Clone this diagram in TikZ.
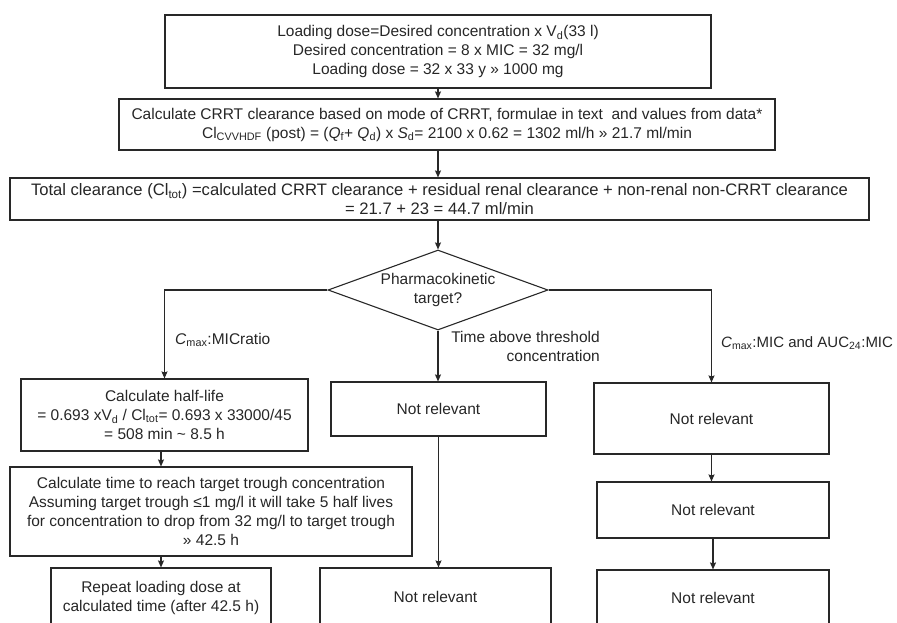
\documentclass[tikz,border=0pt]{standalone}
\usepackage{fontspec}
\setmainfont{Liberation Sans}
\usetikzlibrary{positioning,calc,shapes.geometric,arrows.meta}

\begin{document}
\begin{tikzpicture}[x=1pt,y=-1pt]
	\definecolor{lncol}{RGB}{40,40,40}
	\tikzset{
		stepbox/.style={
			draw=lncol,
			line width=1.1pt,
			rectangle,
			align=center,
			inner sep=2pt,
			text=black!85,
			font=\fontsize{15.5}{19}\selectfont
		},
		decide/.style={
			draw=lncol,
			line width=1.1pt,
			diamond,
			aspect=2.75,
			minimum width=220pt,
			minimum height=80pt,
			inner sep=0pt,
			align=center,
			text=black!85,
			font=\fontsize{15.5}{19}\selectfont
		},
		flow/.style={
			draw=lncol,
			line width=1.1pt,
			-{Stealth[length=7pt,width=6pt,inset=1pt]}
		},
		brlabel/.style={
			inner sep=0pt,
			text=black!85,
			font=\fontsize{15.5}{19}\selectfont
		}
	}
	\clip (0,0) rectangle (897,623);
	
	% ======= top chain =======
	\node[stepbox, minimum width=546pt, minimum height=73pt] (load) at (438,51.5)
		{Loading dose=Desired concentration x V\textsubscript{d}(33 l)\\
		 Desired concentration = 8 x MIC = 32 mg/l\\
		 Loading dose = 32 x 33 y » 1000 mg};
	\node[stepbox, minimum width=656pt, minimum height=51pt] (crrt) at (447,124.5)
		{Calculate CRRT clearance based on mode of CRRT, formulae in text\ \ and values from data*\\
		 Cl\textsubscript{CVVHDF} (post) = (\textit{Q}\textsubscript{f}+ \textit{Q}\textsubscript{d}) x \textit{S}\textsubscript{d}= 2100 x 0.62 = 1302 ml/h » 21.7 ml/min};
	\node[stepbox, minimum width=859pt, minimum height=42pt, font=\fontsize{16.6}{19}\selectfont] (total) at (439.5,199)
		{Total clearance (Cl\textsubscript{tot}) =calculated CRRT clearance + residual renal clearance + non-renal non-CRRT clearance\\
		 = 21.7 + 23 = 44.7 ml/min};
	\node[decide] (target) at (438,290) {Pharmacokinetic\\target?};
	
	% ======= left branch =======
	\node[stepbox, minimum width=287pt, minimum height=72pt] (half) at (164.5,415)
		{Calculate half-life\\
		 = 0.693 xV\textsubscript{d} / Cl\textsubscript{tot}= 0.693 x 33000/45\\
		 = 508 min \textasciitilde{} 8.5 h};
	\node[stepbox, minimum width=402pt, minimum height=89pt] (trough) at (211,511.5)
		{Calculate time to reach target trough concentration\\
		 Assuming target trough ≤1 mg/l it will take 5 half lives\\
		 for concentration to drop from 32 mg/l to target trough\\
		 » 42.5 h};
	\node[stepbox, minimum width=220pt, minimum height=60pt] (repeat) at (161,598)
		{Repeat loading dose at\\calculated time (after 42.5 h)};
	
	% ======= middle branch =======
	\node[stepbox, minimum width=215pt, minimum height=54pt] (midA) at (438.5,409) {Not relevant};
	\node[stepbox, minimum width=231pt, minimum height=58pt] (midB) at (435.5,597) {Not relevant};
	
	% ======= right branch =======
	\node[stepbox, minimum width=235pt, minimum height=71pt] (rgtA) at (711.5,418.5) {Not relevant};
	\node[stepbox, minimum width=232pt, minimum height=56pt] (rgtB) at (713,510) {Not relevant};
	\node[stepbox, minimum width=232pt, minimum height=56pt] (rgtC) at (713,598) {Not relevant};
	
	% ======= branch labels =======
	\node[brlabel, anchor=west] (lblL) at (175,340) {\textit{C}\textsubscript{max}:MICratio};
	\node[brlabel, anchor=north east, align=right] (lblM) at (600,331)
		{Time above threshold\\concentration};
	\node[brlabel, anchor=west, font=\fontsize{15}{19}\selectfont] (lblR) at (721,343) {\textit{C}\textsubscript{max}:MIC and AUC\textsubscript{24}:MIC};
	
	% ======= connectors =======
	\draw[flow] (load.south) -- (load.south |- crrt.north);
	\draw[flow] (load.south |- crrt.south) -- (load.south |- total.north);
	\draw[flow] (total.south -| target.north) -- (target.north);
	\draw[flow] (target.west) -- (half.north |- target.west) -- (half.north);
	\draw[flow] (target.south) -- (target.south |- midA.north);
	\draw[flow] (target.east) -- (rgtA.north |- target.east) -- (rgtA.north);
	\draw[flow] (repeat.north |- half.south) -- (repeat.north |- trough.north);
	\draw[flow] (repeat.north |- trough.south) -- (repeat.north);
	\draw[flow] (midA.south) -- (midA.south |- midB.north);
	\draw[flow] (rgtA.south) -- (rgtA.south |- rgtB.north);
	\draw[flow] (rgtB.south) -- (rgtB.south |- rgtC.north);
\end{tikzpicture}
\end{document}
